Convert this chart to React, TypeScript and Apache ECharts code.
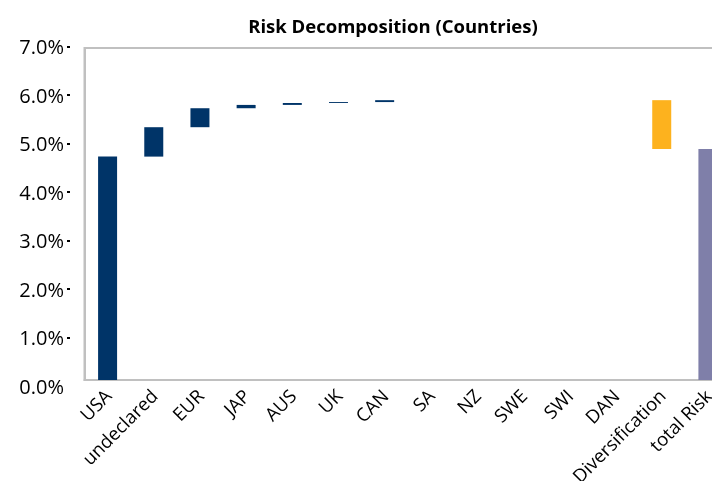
import React, { useEffect, useRef } from "react";
import * as echarts from "echarts";

const categories = ["USA", "undeclared", "EUR", "JAP", "AUS", "UK", "CAN", "SA", "NZ", "SWE", "SWI", "DAN", "Diversification", "total Risk"];
// contribution of each category (in %)
const contributions = [4.71, 0.62, 0.4, 0.07, 0.04, 0.02, 0.04, 0, 0, 0, 0, 0, -1.03, 4.87];
const kinds = ["c", "c", "c", "c", "c", "c", "c", "c", "c", "c", "c", "c", "div", "total"];
const yTicks = [0, 1, 2, 3, 4, 5, 6, 7];

const COLORS: Record<string, string> = { c: "#003468", div: "#FDB21E", total: "#7F7FA9" };
const FONT = "'Open Sans', 'Noto Sans', sans-serif";

export default function App() {
  const ref = useRef<HTMLDivElement>(null);
  useEffect(() => {
    if (!ref.current) return;
    const chart = echarts.init(ref.current, null, { renderer: "svg" });
    // waterfall bases built from contributions
    const base: number[] = [];
    const vis: any[] = [];
    let run = 0;
    contributions.forEach((v, i) => {
      const k = kinds[i];
      if (k === "total") {
        base.push(0);
        vis.push({ value: v, itemStyle: { color: COLORS[k] } });
      } else if (v < 0) {
        run += v;
        base.push(run);
        vis.push({ value: -v, itemStyle: { color: COLORS[k] } });
      } else {
        base.push(run);
        run += v;
        vis.push({ value: v, itemStyle: { color: COLORS[k] } });
      }
    });
    chart.setOption({
      animation: false,
      title: {
        text: "Risk Decomposition (Countries)",
        left: 388,
        textAlign: "center",
        top: 11,
        textStyle: { fontFamily: FONT, fontSize: 18.5, fontWeight: "bold", color: "#000" },
      },
      grid: [
        { left: 84.5, right: -19, top: 48, bottom: 101, show: true, borderColor: "#c0c0c0", borderWidth: 2, backgroundColor: "transparent", outerBoundsMode: "none", containLabel: false },
        { left: 70, width: 10, top: 46.7, bottom: 481 - 386.2, outerBoundsMode: "none", containLabel: false },
      ],
      xAxis: [
        {
          type: "category",
          data: categories,
          gridIndex: 0,
          axisLine: { show: true, lineStyle: { color: "#c0c0c0", width: 2 } },
          axisTick: { show: false },
          axisLabel: { rotate: 45, fontFamily: FONT, fontSize: 18.5, color: "#000", margin: 12, interval: 0 },
        },
        { type: "value", gridIndex: 1, show: false, min: 0, max: 1 },
      ],
      yAxis: [
        {
          type: "value",
          gridIndex: 0,
          min: 0,
          max: 7,
          interval: 1,
          axisLine: { show: true, lineStyle: { color: "#c0c0c0", width: 2 } },
          axisTick: { show: false },
          axisLabel: { show: false },
          splitLine: { show: false },
        },
        {
          type: "value",
          gridIndex: 1,
          min: yTicks[0],
          max: yTicks[yTicks.length - 1],
          interval: 1,
          axisLine: { show: false },
          axisTick: { show: true, length: 3, lineStyle: { color: "#000", width: 2 }, customValues: yTicks.slice(1) },
          axisLabel: {
            fontFamily: FONT,
            fontSize: 20,
            color: "#000",
            margin: 6,
            padding: [10, 0, 0, 0],
            formatter: (v: number) => v.toFixed(1) + "%",
          },
          splitLine: { show: false },
        },
      ],
      series: [
        {
          type: "bar",
          stack: "w",
          data: base,
          barWidth: 19,
          itemStyle: { color: "transparent" },
          silent: true,
        },
        {
          type: "bar",
          stack: "w",
          data: vis,
          barWidth: 19,
        },
      ],
    });
    return () => chart.dispose();
  }, []);
  return (
    <div style={{ position: "fixed", left: 0, top: 0, width: 712, height: 481, overflow: "hidden" }}>
      <div ref={ref} style={{ width: 712, height: 481 }} />
    </div>
  );
}
